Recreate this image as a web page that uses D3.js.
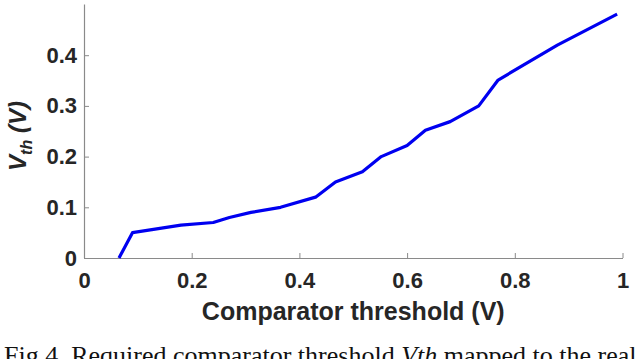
<!DOCTYPE html>
<html>
<head>
<meta charset="utf-8">
<script src="https://cdn.jsdelivr.net/npm/d3@7"></script>
<style>
  body { margin: 0; background: #fff; overflow: hidden; }
  svg { display: block; }
</style>
</head>
<body>
<div id="chart"></div>
<script>
// comparator threshold (V) vs required Vth (V)
let thresholds = [0.065, 0.09, 0.18, 0.24, 0.27, 0.31, 0.365, 0.43, 0.467, 0.517, 0.552, 0.6, 0.634, 0.68, 0.733, 0.769, 0.879, 0.99];
let vth = [0, 0.05, 0.065, 0.07, 0.08, 0.09, 0.1, 0.12, 0.15, 0.17, 0.2, 0.222, 0.252, 0.269, 0.3, 0.351, 0.42, 0.481];
let xTicks = [0, 0.2, 0.4, 0.6, 0.8, 1];
let yTicks = [0, 0.1, 0.2, 0.3, 0.4];

let width = 640, height = 359;
let margin = {top: 4.5, right: 17.5, bottom: 101, left: 84};

let svg = d3.select("#chart").append("svg")
    .attr("width", width)
    .attr("height", height);

let x = d3.scaleLinear()
    .domain([0, 1])
    .range([margin.left, width - margin.right]);
let y = d3.scaleLinear()
    .domain([0, 0.5])
    .range([height - margin.bottom, margin.top]);

let textColor = "#262626";
let axisColor = "#8a8a8a";

// x axis
let gx = svg.append("g")
    .attr("transform", "translate(0," + y(0) + ")")
    .call(d3.axisBottom(x)
        .tickValues(xTicks)
        .tickFormat(d3.format("~g"))
        .tickSizeInner(-5)
        .tickSizeOuter(0)
        .tickPadding(14));

// y axis
let gy = svg.append("g")
    .attr("transform", "translate(" + x(0) + ",0)")
    .call(d3.axisLeft(y)
        .tickValues(yTicks)
        .tickFormat(d3.format("~g"))
        .tickSizeInner(-5)
        .tickSizeOuter(0)
        .tickPadding(7));

// y axis line goes up to the top of the plot area
gy.select(".domain").attr("d", "M0.5," + y(0) + "V" + margin.top);

[gx, gy].forEach(function(g) {
    g.select(".domain").attr("stroke", axisColor).attr("stroke-width", 1.2);
    g.selectAll(".tick line").attr("stroke", axisColor).attr("stroke-width", 1);
    g.selectAll(".tick text")
        .attr("fill", textColor)
        .attr("font-family", "Liberation Sans, Arial, sans-serif")
        .attr("font-weight", "bold")
        .attr("font-size", "22px");
});

// the curve
let pts = thresholds.map(function(t, i) { return [t, vth[i]]; });
svg.append("path")
    .datum(pts)
    .attr("fill", "none")
    .attr("stroke", "#0000f0")
    .attr("stroke-width", 3.2)
    .attr("stroke-linejoin", "round")
    .attr("d", d3.line()
        .x(function(d) { return x(d[0]); })
        .y(function(d) { return y(d[1]); }));

// x label
svg.append("text")
    .attr("x", (x(0) + x(1)) / 2)
    .attr("y", 320)
    .attr("text-anchor", "middle")
    .attr("fill", textColor)
    .attr("font-family", "Liberation Sans, Arial, sans-serif")
    .attr("font-weight", "bold")
    .attr("font-size", "25px")
    .text("Comparator threshold (V)");

// y label
let yl = svg.append("text")
    .attr("transform", "translate(26," + 136 + ") rotate(-90)")
    .attr("text-anchor", "middle")
    .attr("fill", textColor)
    .attr("font-family", "Liberation Sans, Arial, sans-serif")
    .attr("font-weight", "bold")
    .attr("font-style", "italic")
    .attr("font-size", "24px");
yl.append("tspan").text("V");
yl.append("tspan").attr("font-size", "16px").attr("dy", 6).text("th");
yl.append("tspan").attr("dy", -6).text(" (V)");

// caption (cut off at the bottom edge, as in the source figure)
let cap = svg.append("text")
    .attr("x", 4)
    .attr("y", 364)
    .attr("fill", "#111")
    .attr("font-family", "Liberation Serif, Times New Roman, serif")
    .attr("font-size", "26px");
cap.append("tspan").text("Fig.4. Required comparator threshold ");
cap.append("tspan").attr("font-style", "italic").text("Vth");
cap.append("tspan").text(" mapped to the real");
</script>
</body>
</html>
